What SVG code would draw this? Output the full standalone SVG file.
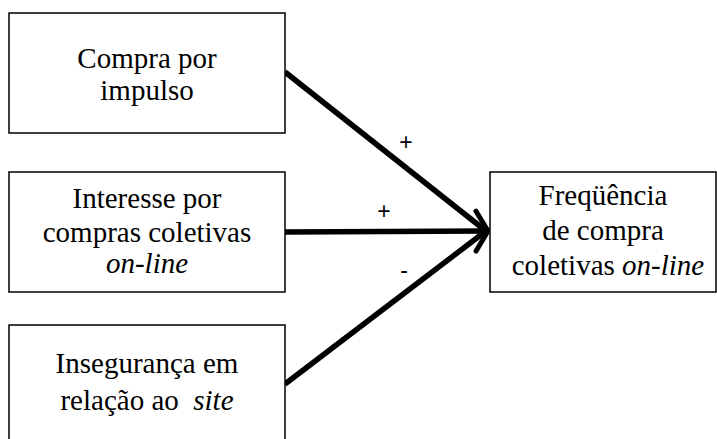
<svg xmlns="http://www.w3.org/2000/svg" width="717" height="439" viewBox="0 0 717 439">
<style>
.box{fill:#fff;stroke:#000;stroke-width:1.5}
.edge{stroke:#000;stroke-width:5.5;fill:none}
</style>
<defs>
<marker id="ah" viewBox="0 0 20 46" refX="15" refY="23" markerWidth="20" markerHeight="46" markerUnits="userSpaceOnUse" orient="auto">
<path d="M3,3 L15,23 L3,43" fill="none" stroke="#000" stroke-width="5" stroke-linecap="round" stroke-linejoin="round"/>
</marker>
</defs>
<g id="connectors">
<line class="edge" x1="285" y1="72" x2="486" y2="231"/>
<line class="edge" x1="285" y1="384" x2="486" y2="231"/>
<line class="edge" x1="285" y1="232" x2="488" y2="231" marker-end="url(#ah)"/>
<g font-family="'Liberation Sans', Arial, sans-serif" font-size="23" text-anchor="middle" fill="#000">
<text x="406" y="150">+</text>
<text x="384" y="219">+</text>
<text x="404" y="278">-</text>
</g>
</g>
<g font-family="'Liberation Serif', 'Times New Roman', serif" font-size="29" text-anchor="middle" fill="#000">
<g id="n1">
<rect class="box" x="9" y="13" width="276" height="120"/>
<text x="147" y="68">Compra por</text>
<text x="147" y="100">impulso</text>
</g>
<g id="n2">
<rect class="box" x="9" y="172" width="276" height="120"/>
<text x="147" y="208">Interesse por</text>
<text x="147" y="242">compras coletivas</text>
<text x="147" y="273" font-style="italic">on-line</text>
</g>
<g id="n3">
<rect class="box" x="9" y="325" width="276" height="130"/>
<text x="147" y="373">Insegurança em</text>
<text x="147" y="410" xml:space="preserve">relação ao  <tspan font-style="italic">site</tspan></text>
</g>
<g id="n4">
<rect class="box" x="490" y="172" width="226" height="120"/>
<text x="603" y="205">Freqüência</text>
<text x="603" y="240">de compra</text>
<text x="608" y="275">coletivas <tspan font-style="italic">on-line</tspan></text>
</g>
</g>
</svg>
